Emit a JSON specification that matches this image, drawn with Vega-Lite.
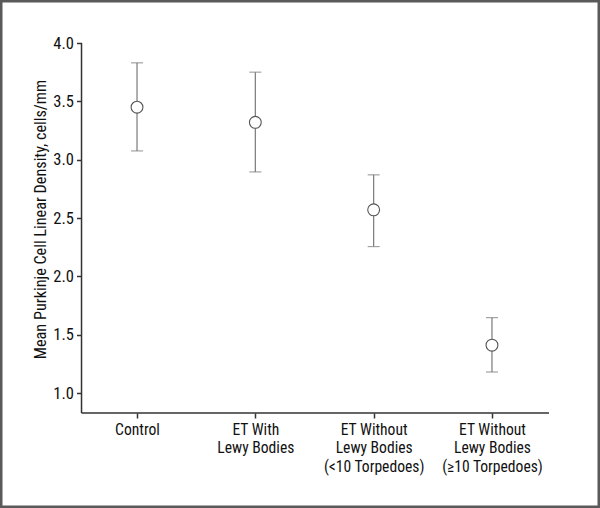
{
  "$schema": "https://vega.github.io/schema/vega-lite/v6.json",
  "width": 600,
  "height": 508,
  "padding": 0,
  "autosize": {"type": "none"},
  "background": "white",
  "config": {
    "view": {"stroke": "#5a5a5a", "strokeWidth": 5},
    "font": "Liberation Sans Narrow, Roboto Condensed, Arial Narrow, sans-serif"
  },
  "datasets": {
    "groups": [
      {"group": "Control", "pos": 1, "mean": 3.45, "lo": 3.075, "hi": 3.83},
      {"group": "ET With Lewy Bodies", "pos": 2, "mean": 3.32, "lo": 2.895, "hi": 3.75},
      {"group": "ET Without Lewy Bodies (<10 Torpedoes)", "pos": 3, "mean": 2.57, "lo": 2.255, "hi": 2.87},
      {"group": "ET Without Lewy Bodies (≥10 Torpedoes)", "pos": 4, "mean": 1.41, "lo": 1.18, "hi": 1.646}
    ],
    "yline": [{"x": 0.531, "y": 0.8286, "y2": 4.0}],
    "xline": [{"x": 0.531, "x2": 4.482, "y": 0.8286}]
  },
  "layer": [
    {
      "data": {"name": "yline"},
      "mark": {"type": "rule", "color": "#333333", "strokeWidth": 1.5},
      "encoding": {
        "x": {"field": "x", "type": "quantitative", "scale": {"domain": [-0.158, 4.913], "nice": false, "zero": false},
          "axis": {"orient": "bottom", "offset": -95, "values": [1, 2, 3, 4], "domain": false, "grid": false,
            "tickSize": 5, "tickColor": "#333333", "tickWidth": 1.5, "labelPadding": 4,
            "labelFontSize": 15.6, "labelColor": "#111111", "labelLineHeight": 18.5, "labelBaseline": "top",
            "labelExpr": "datum.value == 1 ? 'Control' : datum.value == 2 ? ['ET With', 'Lewy Bodies'] : datum.value == 3 ? ['ET Without', 'Lewy Bodies', '(<10 Torpedoes)'] : ['ET Without', 'Lewy Bodies', '(≥10 Torpedoes)']",
            "title": null}},
        "y": {"field": "y", "type": "quantitative", "scale": {"domain": [0.0143, 4.3686], "nice": false, "zero": false},
          "axis": {"orient": "left", "offset": -81.5, "values": [1, 1.5, 2, 2.5, 3, 3.5, 4], "format": ".1f",
            "domain": false, "grid": false, "tickSize": 5, "tickColor": "#333333", "tickWidth": 1.5,
            "labelPadding": 3, "labelFontSize": 16.5, "labelColor": "#111111",
            "title": "Mean Purkinje Cell Linear Density, cells/mm", "titleFontSize": 16.2, "titleFontWeight": "normal",
            "titleColor": "#111111", "titleAngle": -90, "titleX": -41.5, "titleY": 219, "titleAlign": "center", "titleBaseline": "middle"}},
        "y2": {"field": "y2"}
      }
    },
    {
      "data": {"name": "xline"},
      "mark": {"type": "rule", "color": "#333333", "strokeWidth": 1.5},
      "encoding": {
        "x": {"field": "x", "type": "quantitative"},
        "x2": {"field": "x2"},
        "y": {"field": "y", "type": "quantitative"}
      }
    },
    {
      "data": {"name": "groups"},
      "mark": {"type": "rule", "color": "#7a7a7a", "strokeWidth": 1.2},
      "encoding": {
        "x": {"field": "pos", "type": "quantitative"},
        "y": {"field": "lo", "type": "quantitative"},
        "y2": {"field": "hi"}
      }
    },
    {
      "data": {"name": "groups"},
      "mark": {"type": "tick", "orient": "horizontal", "color": "#7a7a7a", "size": 12, "thickness": 1.2},
      "encoding": {
        "x": {"field": "pos", "type": "quantitative"},
        "y": {"field": "lo", "type": "quantitative"}
      }
    },
    {
      "data": {"name": "groups"},
      "mark": {"type": "tick", "orient": "horizontal", "color": "#7a7a7a", "size": 12, "thickness": 1.2},
      "encoding": {
        "x": {"field": "pos", "type": "quantitative"},
        "y": {"field": "hi", "type": "quantitative"}
      }
    },
    {
      "data": {"name": "groups"},
      "mark": {"type": "point", "shape": "circle", "filled": false, "fill": "white", "fillOpacity": 1, "stroke": "#555555", "strokeWidth": 1.1, "size": 140, "opacity": 1},
      "encoding": {
        "x": {"field": "pos", "type": "quantitative"},
        "y": {"field": "mean", "type": "quantitative"}
      }
    }
  ]
}
